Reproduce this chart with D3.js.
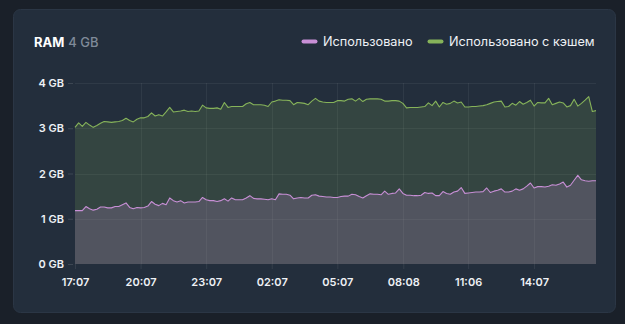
<!DOCTYPE html>
<html>
<head>
<meta charset="utf-8">
<script src="https://cdn.jsdelivr.net/npm/d3@7"></script>
<style>
  html, body { margin: 0; padding: 0; background: #1a2029; }
  svg { display: block; }
</style>
</head>
<body>
<svg id="chart" width="625" height="324"></svg>
<script>
// RAM usage over the last 24 hours, one sample every 10 minutes, in GB
const startTime = new Date(2024, 0, 1, 17, 7);
const stepMinutes = 10;

const usedWithCache = [
  3.02, 3.12, 3.04, 3.13, 3.07, 3.02, 3.06, 3.11, 3.15, 3.14,
  3.13, 3.14, 3.15, 3.17, 3.22, 3.17, 3.14, 3.20, 3.23, 3.23,
  3.26, 3.34, 3.27, 3.30, 3.27, 3.36, 3.46, 3.36, 3.37, 3.38,
  3.40, 3.37, 3.38, 3.37, 3.38, 3.51, 3.45, 3.44, 3.44, 3.45,
  3.42, 3.57, 3.46, 3.48, 3.48, 3.48, 3.48, 3.54, 3.57, 3.52,
  3.52, 3.52, 3.51, 3.48, 3.58, 3.60, 3.63, 3.62, 3.62, 3.61,
  3.52, 3.57, 3.56, 3.55, 3.52, 3.60, 3.66, 3.60, 3.58, 3.57,
  3.57, 3.57, 3.61, 3.61, 3.60, 3.64, 3.65, 3.60, 3.66, 3.59,
  3.64, 3.65, 3.65, 3.65, 3.64, 3.60, 3.60, 3.61, 3.61, 3.60,
  3.55, 3.45, 3.46, 3.46, 3.46, 3.47, 3.48, 3.56, 3.50, 3.60,
  3.47, 3.57, 3.53, 3.55, 3.60, 3.56, 3.58, 3.47, 3.47, 3.48,
  3.48, 3.49, 3.50, 3.52, 3.55, 3.58, 3.59, 3.60, 3.47, 3.48,
  3.55, 3.51, 3.59, 3.53, 3.57, 3.62, 3.49, 3.57, 3.56, 3.56,
  3.66, 3.52, 3.55, 3.58, 3.56, 3.47, 3.50, 3.64, 3.49, 3.55,
  3.62, 3.70, 3.37, 3.39
];

const used = [
  1.18, 1.18, 1.18, 1.27, 1.22, 1.19, 1.21, 1.26, 1.26, 1.24,
  1.24, 1.27, 1.27, 1.31, 1.35, 1.25, 1.22, 1.25, 1.24, 1.25,
  1.28, 1.38, 1.32, 1.29, 1.34, 1.31, 1.46, 1.40, 1.37, 1.40,
  1.35, 1.37, 1.37, 1.37, 1.38, 1.47, 1.42, 1.40, 1.40, 1.38,
  1.40, 1.44, 1.39, 1.46, 1.42, 1.42, 1.42, 1.46, 1.51, 1.45,
  1.44, 1.44, 1.43, 1.42, 1.44, 1.42, 1.55, 1.54, 1.54, 1.52,
  1.44, 1.46, 1.47, 1.46, 1.46, 1.52, 1.53, 1.50, 1.49, 1.48,
  1.48, 1.47, 1.47, 1.49, 1.50, 1.50, 1.54, 1.53, 1.49, 1.46,
  1.51, 1.55, 1.54, 1.54, 1.53, 1.61, 1.54, 1.56, 1.57, 1.66,
  1.56, 1.52, 1.52, 1.51, 1.51, 1.52, 1.58, 1.56, 1.57, 1.51,
  1.51, 1.60, 1.56, 1.54, 1.59, 1.61, 1.69, 1.56, 1.57, 1.58,
  1.59, 1.59, 1.60, 1.68, 1.58, 1.61, 1.63, 1.66, 1.59, 1.59,
  1.61, 1.66, 1.63, 1.66, 1.72, 1.79, 1.68, 1.71, 1.71, 1.70,
  1.72, 1.75, 1.74, 1.77, 1.81, 1.70, 1.74, 1.85, 1.96, 1.86,
  1.84, 1.83, 1.84, 1.84
];

const yTicks = [0, 1, 2, 3, 4];
const xTickLabels = ["17:07", "20:07", "23:07", "02:07", "05:07", "08:08", "11:06", "14:07"];
const xTickMinutes = [0, 180, 360, 540, 720, 901, 1079, 1260];

const seriesNames = ["Использовано", "Использовано с кэшем"];
const seriesColors = ["#c88fd6", "#86b35a"];

const times = used.map((_, i) => new Date(startTime.getTime() + i * stepMinutes * 60000));
const endTime = times[times.length - 1];
const tickDates = xTickMinutes.map(m => new Date(startTime.getTime() + m * 60000));

const svg = d3.select("#chart");
const W = 625, H = 324;
const font = "Inter, 'Open Sans', sans-serif";

// card
svg.append("rect")
  .attr("x", 13.5).attr("y", 9.5)
  .attr("width", 602).attr("height", 303)
  .attr("rx", 7)
  .attr("fill", "#232e3c")
  .attr("stroke", "#2b3645")
  .attr("stroke-width", 1);

// header
const title = svg.append("text")
  .attr("x", 34).attr("y", 47)
  .attr("font-family", font)
  .attr("font-size", 13);
title.append("tspan").attr("fill", "#ffffff").attr("font-weight", 700).text("RAM");
title.append("tspan").attr("fill", "#7f8a99").attr("font-weight", 500).attr("dx", 4).text("4 GB");

const margin = { left: 75, right: 29 };
const x = d3.scaleTime().domain([startTime, endTime]).range([margin.left, W - margin.right]);
const y = d3.scaleLinear().domain([0, 4]).range([264, 83]);

// legend
const legendItems = [
  { name: seriesNames[0], color: seriesColors[0], x: 302 },
  { name: seriesNames[1], color: seriesColors[1], x: 428 }
];
const lg = svg.append("g");
legendItems.forEach(d => {
  lg.append("line")
    .attr("x1", d.x + 1.5).attr("x2", d.x + 13.5)
    .attr("y1", 41.5).attr("y2", 41.5)
    .attr("stroke", d.color).attr("stroke-width", 4).attr("stroke-linecap", "round");
  lg.append("text")
    .attr("x", d.x + 21).attr("y", 46)
    .attr("font-family", font).attr("font-size", 12.7)
    .attr("fill", "#eef1f5")
    .text(d.name);
});

// grid
const grid = svg.append("g");
grid.selectAll("line.h").data(yTicks.slice(1)).join("line")
  .attr("x1", margin.left).attr("x2", W - margin.right)
  .attr("y1", d => Math.round(y(d)) + 0.5).attr("y2", d => Math.round(y(d)) + 0.5)
  .attr("stroke", "#ffffff").attr("stroke-opacity", 0.06);
grid.selectAll("line.v").data(tickDates.slice(1)).join("line")
  .attr("x1", d => Math.round(x(d)) + 0.5).attr("x2", d => Math.round(x(d)) + 0.5)
  .attr("y1", y(4)).attr("y2", y(0))
  .attr("stroke", "#ffffff").attr("stroke-opacity", 0.06);

// areas and lines
const cacheData = times.map((t, i) => ({ t, v: usedWithCache[i] }));
const usedData = times.map((t, i) => ({ t, v: used[i] }));

const area = d3.area().x(d => x(d.t)).y0(y(0)).y1(d => y(d.v));
const line = d3.line().x(d => x(d.t)).y(d => y(d.v));

svg.append("path").datum(cacheData)
  .attr("d", area).attr("fill", seriesColors[1]).attr("fill-opacity", 0.18);
svg.append("path").datum(usedData)
  .attr("d", area).attr("fill", seriesColors[0]).attr("fill-opacity", 0.2);
svg.append("path").datum(cacheData)
  .attr("d", line).attr("fill", "none")
  .attr("stroke", seriesColors[1]).attr("stroke-width", 1.1).attr("stroke-linejoin", "round");
svg.append("path").datum(usedData)
  .attr("d", line).attr("fill", "none")
  .attr("stroke", seriesColors[0]).attr("stroke-width", 1.1).attr("stroke-linejoin", "round");

// axes
const yAxis = d3.axisLeft(y).tickValues(yTicks).tickFormat(d => d + " GB").tickSize(5).tickPadding(4);
const yg = svg.append("g").attr("transform", `translate(${margin.left - 2},0)`).call(yAxis);
yg.select(".domain").remove();
yg.selectAll(".tick line").attr("stroke", "#ffffff").attr("stroke-opacity", 0.12);
yg.selectAll(".tick text")
  .attr("fill", "#eef1f5").attr("font-family", font).attr("font-size", 11).attr("font-weight", 600);

const xAxis = d3.axisBottom(x).tickValues(tickDates)
  .tickFormat((d, i) => xTickLabels[i]).tickSize(5).tickPadding(9);
const xg = svg.append("g").attr("transform", `translate(0,${y(0)})`).call(xAxis);
xg.select(".domain").remove();
xg.selectAll(".tick line").attr("stroke", "#ffffff").attr("stroke-opacity", 0.08);
xg.selectAll(".tick text")
  .attr("fill", "#eef1f5").attr("font-family", font).attr("font-size", 11).attr("font-weight", 600);
</script>
</body>
</html>
